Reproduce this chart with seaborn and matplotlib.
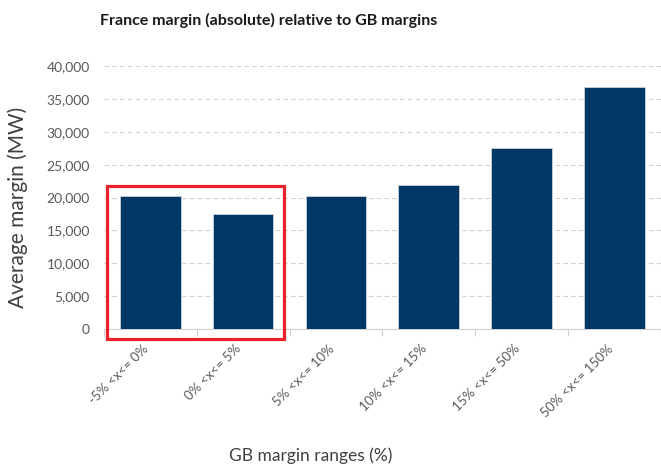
import pandas as pd
import matplotlib.pyplot as plt
import seaborn as sns
from matplotlib.patches import Rectangle
from matplotlib.ticker import FuncFormatter
from matplotlib.transforms import ScaledTranslation

ranges = ["-5% <x<= 0%", "0% <x<= 5%", "5% <x<= 10%",
          "10% <x<= 15%", "15% <x<= 50%", "50% <x<= 150%"]
margins = [20300, 17500, 20300, 21900, 27600, 36900]
yticks = [0, 5000, 10000, 15000, 20000, 25000, 30000, 35000, 40000]

df = pd.DataFrame({"range": ranges, "margin": margins})

sns.set_style("white")
plt.rcParams["font.family"] = ["Lato", "DejaVu Sans"]

fig = plt.figure(figsize=(6.61, 4.65), dpi=100)
ax = fig.add_axes([0.157, 0.2925, 0.843, 0.565])

sns.barplot(data=df, x="range", y="margin", color="#003764", width=0.655,
            edgecolor="#c8d3de", linewidth=0.6, saturation=1, ax=ax, zorder=3)

ax.set_ylim(0, 40000)
ax.set_xlim(-0.5, 5.5)
ax.set_yticks(yticks)
ax.yaxis.set_major_formatter(FuncFormatter(lambda v, p: f"{int(v):,}"))
ax.grid(axis="y", color="#d0d0d0", linestyle=(0, (4, 3)), linewidth=0.8, zorder=0)

for s in ["top", "right", "left"]:
    ax.spines[s].set_visible(False)
ax.spines["bottom"].set_color("#d0d0d0")
ax.spines["bottom"].set_linewidth(0.8)

ax.set_xticks([i - 0.5 for i in range(7)], minor=True)
ax.tick_params(axis="x", which="minor", length=5, color="#d0d0d0", width=0.8, bottom=True)
ax.tick_params(axis="x", which="major", length=0, pad=4, labelsize=9.5, labelcolor="#595959")
ax.tick_params(axis="y", length=0, pad=10, labelsize=10, labelcolor="#595959")
shift = ScaledTranslation(-8 / 100, -8 / 100, fig.dpi_scale_trans)
for lab in ax.get_xticklabels():
    lab.set_rotation(45)
    lab.set_ha("right")
    lab.set_rotation_mode("anchor")
    lab.set_transform(lab.get_transform() + shift)

ax.set_title("France margin (absolute) relative to GB margins", fontsize=11.5,
             fontweight="bold", color="#1a1a1a", pad=30, x=0.296)
ax.set_xlabel("GB margin ranges (%)", fontsize=12.5, color="#404040")
ax.set_ylabel("Average margin (MW)", fontsize=15, color="#404040")
ax.xaxis.set_label_coords(0.372, -0.452)
ax.yaxis.set_label_coords(-0.136, 0.464)

# red highlight box round the first two bars
ax.add_patch(Rectangle((-0.47, -1500), 1.91, 23300, fill=False, edgecolor="#e8212a",
                       linewidth=2.3, clip_on=False, zorder=5))

fig.savefig("out.png", dpi=100)
